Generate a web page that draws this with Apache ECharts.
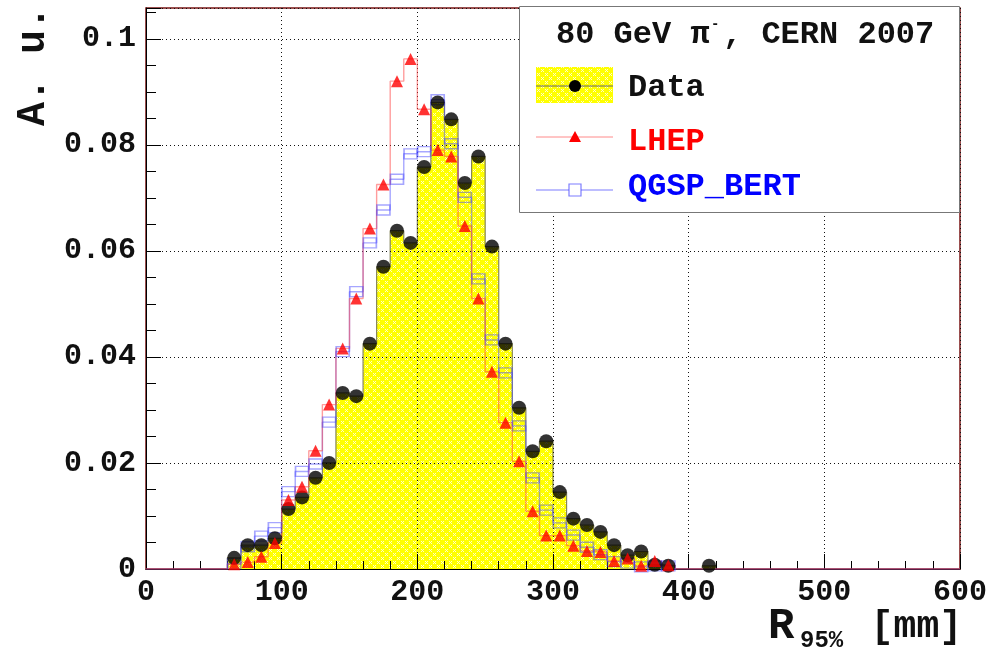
<!DOCTYPE html>
<html>
<head>
<meta charset="utf-8">
<script src="https://cdn.jsdelivr.net/npm/echarts@6/dist/echarts.min.js"></script>
<style>
html, body { margin: 0; padding: 0; background: #fff; }
#main { width: 1004px; height: 649px; }
</style>
</head>
<body>
<div id="main"></div>
<script>
// R95% histograms, 10 mm bins, first bin is 60-70 mm
const binStart = 60
const binWidth = 10

const dataVals = [0.0021, 0.0045, 0.0045, 0.0058, 0.0113, 0.0135, 0.0172, 0.0200,
	0.0332, 0.0326, 0.0425, 0.0570, 0.0638, 0.0615, 0.0758, 0.0880, 0.0848, 0.0728,
	0.0778, 0.0608, 0.0425, 0.0304, 0.0222, 0.0241, 0.0145, 0.0095, 0.0083, 0.0070,
	0.0045, 0.0026, 0.0033, 0.0008, 0.0006, 0, 0, 0.0006]

const lhepVals = [0.0009, 0.0013, 0.0023, 0.0049, 0.0130, 0.0155, 0.0223, 0.0310,
	0.0416, 0.0510, 0.0642, 0.0725, 0.0920, 0.0962, 0.0867, 0.0790, 0.0778, 0.0647,
	0.0510, 0.0372, 0.0276, 0.0203, 0.0109, 0.0063, 0.0063, 0.0044, 0.0034, 0.0032,
	0.0015, 0.0020, 0.0006, 0.0015, 0.0007, 0, 0, 0]

const bertVals = [0.0010, 0.0042, 0.0062, 0.0078, 0.0146, 0.0184, 0.0198, 0.0277,
	0.0410, 0.0523, 0.0615, 0.0677, 0.0735, 0.0783, 0.0787, 0.0885, 0.0802, 0.0701,
	0.0547, 0.0432, 0.0370, 0.0270, 0.0172, 0.0111, 0.0087, 0.0064, 0.0041, 0.0027,
	0.0014, 0.0011, 0.0004, 0.0006, 0.0006, 0, 0, 0]

const xRange = [0, 600]
const yMax = 0.1058
const yStep = 0.02

const monoFont = '"Liberation Mono", "DejaVu Sans Mono", monospace'

// histogram outline: one point per bin edge, drawn with step 'end'
const stepPoints = (vals) => {
	const pts = []
	for (let e = xRange[0]; e < xRange[1]; e += binWidth) {
		const i = Math.round((e - binStart) / binWidth)
		pts.push([e, i >= 0 && i < vals.length ? vals[i] : 0])
	}
	pts.push([xRange[1], 0])
	return pts
}
// markers at bin centres, empty bins get none
const markerPoints = (vals) => vals
	.map((v, i) => [binStart + binWidth * (i + 0.5), v])
	.filter(p => p[1] > 0)

// yellow fill with light speckles, like the ROOT fill style
const makePattern = () => {
	const c = document.createElement('canvas')
	c.width = 8
	c.height = 8
	const ctx = c.getContext('2d')
	ctx.fillStyle = '#ffff00'
	ctx.fillRect(0, 0, 8, 8)
	ctx.fillStyle = '#ffffc8'
	const dots = [[1, 1], [3, 1], [2, 2], [1, 3], [3, 3], [5, 5], [7, 5], [6, 6], [5, 7], [7, 7]]
	dots.forEach(d => ctx.fillRect(d[0], d[1], 1, 1))
	return c
}
const yellowFill = { image: makePattern(), repeat: 'repeat' }

const chart = echarts.init(document.getElementById('main'), null, { renderer: 'canvas' })

const option = {
	animation: false,
	backgroundColor: '#fff',
	grid: {
		left: 146, right: 44, top: 8, bottom: 80,
		show: true, borderColor: '#7a1515', borderWidth: 1.5, backgroundColor: 'transparent'
	},
	xAxis: {
		type: 'value', min: xRange[0], max: xRange[1], interval: 100, z: 3,
		axisLine: { show: true, lineStyle: { color: '#000', width: 1 } },
		axisTick: { show: true, inside: true, length: 15, lineStyle: { color: '#000' } },
		minorTick: { show: true, splitNumber: 5, length: 8, lineStyle: { color: '#000' } },
		splitLine: { show: true, lineStyle: { color: '#111', type: [1, 3], width: 1 } },
		axisLabel: { fontFamily: monoFont, fontWeight: 'bold', fontSize: 30, color: '#111', margin: 8 }
	},
	yAxis: {
		type: 'value', min: 0, max: yMax, interval: yStep, z: 3,
		axisLine: { show: true, lineStyle: { color: '#000', width: 1 } },
		axisTick: { show: true, inside: true, length: 15, lineStyle: { color: '#000' } },
		minorTick: { show: true, splitNumber: 4, length: 10, lineStyle: { color: '#000' } },
		splitLine: { show: true, lineStyle: { color: '#111', type: [1, 3], width: 1 } },
		axisLabel: {
			fontFamily: monoFont, fontWeight: 'bold', fontSize: 30, color: '#111', margin: 10,
			formatter: (v) => {
				const k = v / yStep
				return Math.abs(k - Math.round(k)) < 1e-6 ? String(+v.toFixed(2)) : ''
			}
		}
	},
	series: [
		{
			name: 'Data', type: 'line', step: 'end', z: 1, symbol: 'none',
			data: stepPoints(dataVals),
			lineStyle: { color: '#85855a', width: 1.2 },
			areaStyle: { color: yellowFill, opacity: 1 }
		},
		{
			name: 'QGSP_BERT', type: 'line', step: 'end', z: 4, symbol: 'none',
			data: stepPoints(bertVals),
			lineStyle: { color: 'rgba(80,80,255,0.5)', width: 1.4 }
		},
		{
			name: 'LHEP', type: 'line', step: 'end', z: 5, symbol: 'none',
			data: stepPoints(lhepVals),
			lineStyle: { color: 'rgba(255,60,60,0.5)', width: 1.4 }
		},
		{
			type: 'scatter', z: 6, symbol: 'rect', symbolSize: [13, 10],
			data: markerPoints(bertVals),
			itemStyle: { color: 'rgba(0,0,0,0)', borderColor: 'rgba(70,70,255,0.6)', borderWidth: 1.5 }
		},
		{
			type: 'scatter', z: 7, symbol: 'circle', symbolSize: 14,
			data: markerPoints(dataVals),
			itemStyle: { color: '#000' }
		},
		{
			type: 'scatter', z: 8, symbol: 'triangle', symbolSize: 12,
			data: markerPoints(lhepVals),
			itemStyle: { color: '#ff0000' }
		}
	],
	graphic: [
		// legend box
		{ type: 'rect', z: 100, shape: { x: 519.5, y: 6.5, width: 440, height: 206 },
			style: { fill: '#fff', stroke: '#777', lineWidth: 1 } },
		{ type: 'text', z: 101, x: 556, y: 35,
			style: { text: '80 GeV π', font: 'bold 32px ' + monoFont, fill: '#111', align: 'left', verticalAlign: 'middle' } },
		{ type: 'text', z: 101, x: 711, y: 24,
			style: { text: '-', font: 'bold 14px ' + monoFont, fill: '#111', align: 'left', verticalAlign: 'middle' } },
		{ type: 'text', z: 101, x: 723, y: 35,
			style: { text: ', CERN 2007', font: 'bold 32px ' + monoFont, fill: '#111', align: 'left', verticalAlign: 'middle' } },
		{ type: 'rect', z: 101, shape: { x: 536, y: 67, width: 77, height: 36 }, style: { fill: yellowFill } },
		{ type: 'line', z: 102, shape: { x1: 536, y1: 86, x2: 613, y2: 86 }, style: { stroke: '#666', lineWidth: 1 } },
		{ type: 'circle', z: 103, shape: { cx: 575, cy: 86, r: 6 }, style: { fill: '#000' } },
		{ type: 'text', z: 101, x: 628, y: 88,
			style: { text: 'Data', font: 'bold 32px ' + monoFont, fill: '#111', align: 'left', verticalAlign: 'middle' } },
		{ type: 'line', z: 102, shape: { x1: 536, y1: 137, x2: 613, y2: 137 }, style: { stroke: 'rgba(255,60,60,0.6)', lineWidth: 1 } },
		{ type: 'polygon', z: 103, shape: { points: [[575, 131], [569, 142], [581, 142]] }, style: { fill: '#ff0000' } },
		{ type: 'text', z: 101, x: 628, y: 142,
			style: { text: 'LHEP', font: 'bold 32px ' + monoFont, fill: '#ff0000', align: 'left', verticalAlign: 'middle' } },
		{ type: 'line', z: 102, shape: { x1: 536, y1: 190, x2: 613, y2: 190 }, style: { stroke: 'rgba(80,80,255,0.5)', lineWidth: 1.4 } },
		{ type: 'rect', z: 103, shape: { x: 569, y: 184, width: 12, height: 12 }, style: { fill: '#fff', stroke: 'rgba(70,70,255,0.7)', lineWidth: 1.2 } },
		{ type: 'text', z: 101, x: 628, y: 187,
			style: { text: 'QGSP_BERT', font: 'bold 32px ' + monoFont, fill: '#0000ff', align: 'left', verticalAlign: 'middle' } },
		// axis titles
		{ type: 'text', z: 101, x: 34, y: 66, rotation: Math.PI / 2,
			style: { text: 'A. u.', font: 'bold 40px ' + monoFont, fill: '#111', align: 'center', verticalAlign: 'middle' } },
		{ type: 'text', z: 101, x: 768, y: 627,
			style: { text: 'R', font: 'bold 44px ' + monoFont, fill: '#111', align: 'left', verticalAlign: 'middle' } },
		{ type: 'text', z: 101, x: 800, y: 641,
			style: { text: '95%', font: 'bold 24px ' + monoFont, fill: '#111', align: 'left', verticalAlign: 'middle' } },
		{ type: 'text', z: 101, x: 962, y: 627,
			style: { text: '[mm]', font: 'bold 38px ' + monoFont, fill: '#111', align: 'right', verticalAlign: 'middle' } }
	]
}

chart.setOption(option)
</script>
</body>
</html>
